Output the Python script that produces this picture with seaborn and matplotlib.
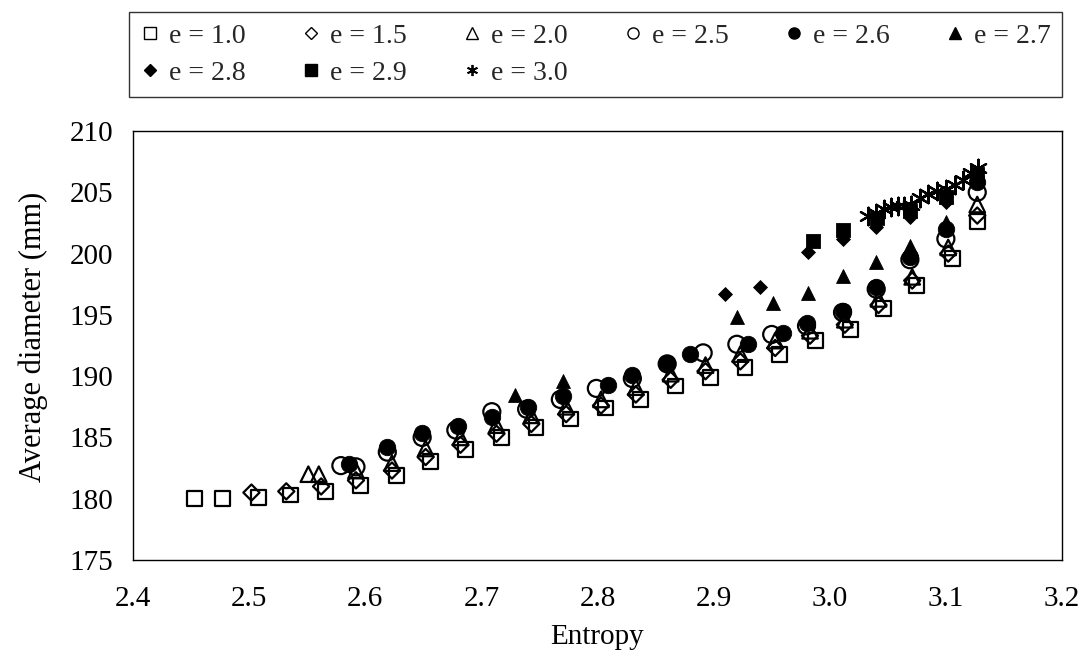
import matplotlib
matplotlib.use("Agg")
import matplotlib.pyplot as plt
from matplotlib.lines import Line2D
import seaborn as sns
import pandas as pd

# Average diameter versus entropy for several values of e
e10_x = [2.453, 2.477, 2.508, 2.536, 2.566, 2.596, 2.627, 2.656, 2.686, 2.717, 2.747, 2.777,
         2.807, 2.837, 2.867, 2.897, 2.927, 2.957, 2.988, 3.018, 3.046, 3.075, 3.106, 3.127]
e10_y = [180.0, 180.0, 180.1, 180.3, 180.6, 181.1, 181.9, 183.0, 184.0, 185.0, 185.8, 186.5,
         187.4, 188.1, 189.2, 189.9, 190.7, 191.8, 192.9, 193.8, 195.5, 197.4, 199.6, 202.6]

e15_x = [2.502, 2.532, 2.562, 2.592, 2.623, 2.652, 2.682, 2.713, 2.743, 2.773, 2.803,
         2.833, 2.863, 2.893, 2.923, 2.953, 2.983, 3.013, 3.042, 3.071, 3.102, 3.127]
e15_y = [180.5, 180.6, 181.0, 181.5, 182.3, 183.4, 184.4, 185.3, 186.1, 186.9, 187.6,
         188.5, 189.7, 190.4, 191.2, 192.3, 193.3, 194.2, 195.8, 197.8, 200.0, 203.1]

e20_x = [2.551, 2.560, 2.592, 2.623, 2.652, 2.682, 2.713, 2.743, 2.773, 2.803, 2.833,
         2.863, 2.893, 2.923, 2.953, 2.983, 3.013, 3.042, 3.071, 3.102, 3.127]
e20_y = [182.0, 182.0, 182.3, 182.9, 184.1, 185.0, 186.0, 186.8, 187.5, 188.1, 189.1,
         190.2, 190.9, 191.8, 192.9, 193.7, 194.6, 196.3, 198.1, 200.5, 204.0]

e25_x = [2.579, 2.592, 2.619, 2.649, 2.678, 2.709, 2.739, 2.768, 2.799, 2.830,
         2.860, 2.891, 2.920, 2.950, 2.980, 3.011, 3.040, 3.069, 3.100, 3.127]
e25_y = [182.7, 182.6, 183.8, 185.0, 185.6, 187.1, 187.3, 188.1, 189.0, 189.8,
         191.0, 191.9, 192.6, 193.4, 194.1, 195.2, 197.1, 199.5, 201.2, 205.0]

e26_x = [2.586, 2.619, 2.649, 2.680, 2.709, 2.740, 2.770, 2.809, 2.830, 2.860,
         2.880, 2.930, 2.960, 2.980, 3.011, 3.040, 3.069, 3.100, 3.127]
e26_y = [182.8, 184.2, 185.4, 185.9, 186.7, 187.5, 188.4, 189.3, 190.1, 191.1,
         191.8, 192.6, 193.5, 194.3, 195.3, 197.3, 199.7, 202.0, 205.8]

e27_x = [2.729, 2.770, 2.920, 2.951, 2.981, 3.011, 3.040, 3.069, 3.100, 3.127]
e27_y = [188.5, 189.6, 194.8, 196.0, 196.8, 198.2, 199.3, 200.6, 202.6, 206.0]

e28_x = [2.910, 2.940, 2.981, 3.011, 3.040, 3.069, 3.100, 3.127]
e28_y = [196.7, 197.3, 200.1, 201.2, 202.2, 203.0, 204.2, 206.3]

e29_x = [2.986, 3.011, 3.041, 3.069, 3.100, 3.127]
e29_y = [201.0, 201.9, 202.9, 203.5, 204.6, 206.5]

e30_x = [3.033, 3.040, 3.047, 3.053, 3.059, 3.064, 3.070, 3.078,
         3.085, 3.092, 3.100, 3.108, 3.115, 3.122, 3.128]
e30_y = [203.1, 203.3, 203.6, 203.8, 203.9, 203.9, 204.0, 204.5,
         204.9, 205.1, 205.3, 205.6, 206.0, 206.6, 207.0]

x_ticks = [2.4, 2.5, 2.6, 2.7, 2.8, 2.9, 3.0, 3.1, 3.2]
y_ticks = [175, 180, 185, 190, 195, 200, 205, 210]

STAR = (6, 2, 0)
# label, x, y, marker, filled, marker area (pt^2)
series = [
    ("e = 1.0", e10_x, e10_y, "s", False, 115),
    ("e = 1.5", e15_x, e15_y, "D", False, 68),
    ("e = 2.0", e20_x, e20_y, "^", False, 125),
    ("e = 2.5", e25_x, e25_y, "o", False, 150),
    ("e = 2.6", e26_x, e26_y, "o", True, 140),
    ("e = 2.7", e27_x, e27_y, "^", True, 100),
    ("e = 2.8", e28_x, e28_y, "D", True, 50),
    ("e = 2.9", e29_x, e29_y, "s", True, 90),
    ("e = 3.0", e30_x, e30_y, STAR, False, 160),
]

sns.set_theme(style="white")
plt.rcParams["font.family"] = ["Liberation Serif", "DejaVu Serif"]

fig = plt.figure(figsize=(10.91, 6.56), dpi=100)
ax = fig.add_axes([133 / 1091, 1 - 560 / 656, (1062 - 133) / 1091, (560 - 131) / 656])

handles = {}
for label, xs, ys, marker, filled, size in series:
    df = pd.DataFrame({"Entropy": xs, "Average diameter (mm)": ys})
    kw = dict(marker=marker, s=size, color="black", legend=False, zorder=3)
    if filled:
        kw.update(edgecolor="black", linewidth=0.6)
    elif marker == STAR:
        kw.update(linewidth=1.6)
    else:
        kw.update(facecolor="none", edgecolor="black", linewidth=1.6)
    sns.scatterplot(data=df, x="Entropy", y="Average diameter (mm)", ax=ax, **kw)
    handles[label] = Line2D([], [], linestyle="none", marker=marker,
                            markersize=6.3 if marker == "D" else 8,
                            markerfacecolor="black" if filled else "none",
                            markeredgecolor="black",
                            markeredgewidth=1.3 if marker == STAR else 1.0)

ax.set_xlim(2.4, 3.2)
ax.set_ylim(175, 210)
ax.set_xticks(x_ticks)
ax.set_yticks(y_ticks)
ax.set_xticklabels([f"{t:.1f}" for t in x_ticks])
ax.set_yticklabels([str(t) for t in y_ticks])
ax.tick_params(axis="both", direction="out", length=5, width=1, color="black",
               labelsize=21, labelcolor="black")
ax.tick_params(axis="x", pad=14)
ax.tick_params(axis="y", pad=9)
for sp in ax.spines.values():
    sp.set_color("black")
    sp.set_linewidth(1.0)

ax.set_xlabel("Entropy", fontsize=21, color="black")
ax.set_ylabel("Average diameter (mm)", fontsize=22, color="black")
ax.xaxis.set_label_coords(0.5, -0.15)
ax.yaxis.set_label_coords(-0.092, 0.52)

# Legend laid out in two rows across the plot width, its top edge 12 px below the figure top
order = ["e = 1.0", "e = 2.8", "e = 1.5", "e = 2.9", "e = 2.0", "e = 3.0",
         "e = 2.5", "e = 2.6", "e = 2.7"]
leg = fig.legend([handles[k] for k in order], order,
                 loc="upper left",
                 bbox_to_anchor=(129 / 1091, 1 - 12 / 656 - 0.01, (1062 - 129) / 1091, 0.01),
                 mode="expand", ncol=6, fontsize=20, frameon=True, fancybox=False,
                 edgecolor="black", handlelength=0.7, handletextpad=0.35,
                 borderaxespad=0, borderpad=0.4, labelspacing=0.42, columnspacing=1.0)
leg.get_frame().set_linewidth(1.0)

fig.savefig("out.png", dpi=100)
